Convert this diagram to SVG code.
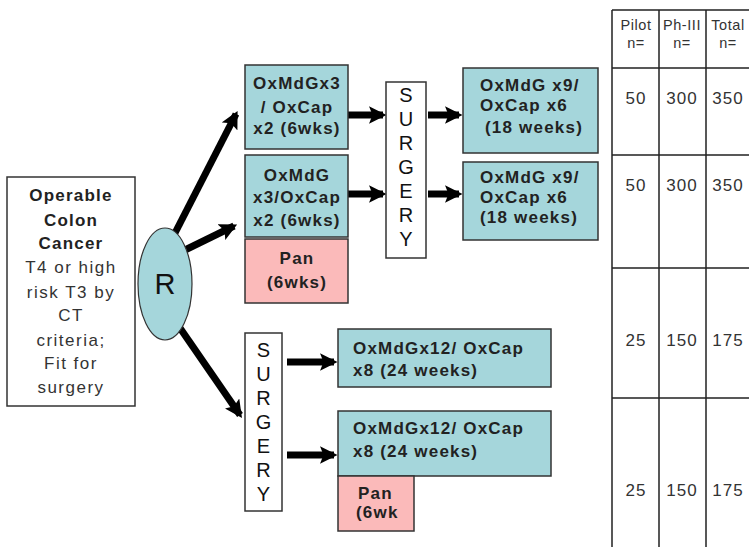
<svg xmlns="http://www.w3.org/2000/svg" width="749" height="547" viewBox="0 0 749 547">
<defs>
<style>
.teal{fill:#a5d6db;stroke:#333;stroke-width:1.5}
.pink{fill:#fbbaba;stroke:#333;stroke-width:1.5}
.white{fill:#fff;stroke:#333;stroke-width:1.5}
.b{font-family:"Liberation Sans",Arial,sans-serif;font-weight:bold;font-size:17px;fill:#222;letter-spacing:1.2px}
.r{font-family:"Liberation Sans",Arial,sans-serif;font-size:17px;fill:#333;letter-spacing:1.5px}
.s{font-family:"Liberation Sans",Arial,sans-serif;font-size:20px;fill:#111;text-anchor:middle}
.t{font-family:"Liberation Sans",Arial,sans-serif;font-size:17px;fill:#333;text-anchor:middle;letter-spacing:1px}
.th{font-family:"Liberation Sans",Arial,sans-serif;font-size:14.5px;fill:#333;text-anchor:middle;letter-spacing:0.6px}
.c{text-anchor:middle}
.arrow{stroke:#000;stroke-width:7;fill:none;marker-end:url(#ah)}
.grid{stroke:#222;stroke-width:1.5;fill:none}
</style>
<marker id="ah" viewBox="0 0 10 10" refX="8" refY="5" markerWidth="2.5" markerHeight="2.5" orient="auto" markerUnits="strokeWidth">
<path d="M0,0 L10,5 L0,10 L2,5 z" fill="#000"/>
</marker>
</defs>

<g id="connectors">
<line class="arrow" x1="175" y1="233" x2="236" y2="114"/>
<line class="arrow" x1="185" y1="250" x2="234" y2="226"/>
<line class="arrow" x1="180" y1="328" x2="240" y2="415"/>
<line class="arrow" x1="348" y1="115" x2="383" y2="115"/>
<line class="arrow" x1="348" y1="194" x2="383" y2="194"/>
<line class="arrow" x1="428" y1="115" x2="459" y2="115"/>
<line class="arrow" x1="428" y1="194" x2="459" y2="194"/>
<line class="arrow" x1="287" y1="362" x2="334" y2="362"/>
<line class="arrow" x1="287" y1="455" x2="334" y2="455"/>
</g>

<g id="patient">
<rect class="white" x="7" y="177" width="128" height="229"/>
<text class="b c" x="71" y="201">Operable</text>
<text class="b c" x="71" y="226">Colon</text>
<text class="b c" x="71" y="249">Cancer</text>
<text class="r c" x="71" y="273">T4 or high</text>
<text class="r c" x="71" y="298">risk T3 by</text>
<text class="r c" x="71" y="321">CT</text>
<text class="r c" x="71" y="346">criteria;</text>
<text class="r c" x="71" y="369">Fit for</text>
<text class="r c" x="71" y="393">surgery</text>
</g>

<g id="randomize">
<ellipse cx="165" cy="284" rx="27" ry="56" fill="#a5d6db" stroke="#333" stroke-width="1.2"/>
<text x="165" y="294" font-family="'Liberation Sans',Arial,sans-serif" font-size="29" fill="#111" text-anchor="middle">R</text>
</g>

<g id="arm1-neo">
<rect class="teal" x="245" y="65" width="103" height="84"/>
<text class="b c" x="297" y="89">OxMdGx3</text>
<text class="b c" x="297" y="113">/ OxCap</text>
<text class="b c" x="297" y="134">x2 (6wks)</text>
</g>

<g id="arm2-neo">
<rect class="teal" x="245" y="155" width="103" height="82"/>
<text class="b c" x="297" y="181">OxMdG</text>
<text class="b c" x="297" y="203">x3/OxCap</text>
<text class="b c" x="297" y="226">x2 (6wks)</text>
</g>

<g id="arm2-pan">
<rect class="pink" x="245" y="239" width="103" height="64"/>
<text class="b c" x="297" y="264">Pan</text>
<text class="b c" x="297" y="288">(6wks)</text>
</g>

<g id="surgery1">
<rect class="white" x="386" y="82" width="40" height="176"/>
<text class="s" x="406" y="102">S</text>
<text class="s" x="406" y="126">U</text>
<text class="s" x="406" y="150">R</text>
<text class="s" x="406" y="174">G</text>
<text class="s" x="406" y="198">E</text>
<text class="s" x="406" y="222">R</text>
<text class="s" x="406" y="246">Y</text>
</g>

<g id="arm1-adj">
<rect class="teal" x="463" y="68" width="135" height="85"/>
<text class="b" x="480" y="91">OxMdG x9/</text>
<text class="b" x="480" y="111">OxCap x6</text>
<text class="b" x="485" y="133">(18 weeks)</text>
</g>

<g id="arm2-adj">
<rect class="teal" x="463" y="162" width="135" height="78"/>
<text class="b" x="480" y="183">OxMdG x9/</text>
<text class="b" x="480" y="203">OxCap x6</text>
<text class="b" x="480" y="223">(18 weeks)</text>
</g>

<g id="surgery2">
<rect class="white" x="245" y="333" width="37" height="178"/>
<text class="s" x="263.5" y="357">S</text>
<text class="s" x="263.5" y="381">U</text>
<text class="s" x="263.5" y="405">R</text>
<text class="s" x="263.5" y="429">G</text>
<text class="s" x="263.5" y="453">E</text>
<text class="s" x="263.5" y="477">R</text>
<text class="s" x="263.5" y="501">Y</text>
</g>

<g id="arm3-adj">
<rect class="teal" x="338" y="329" width="213" height="58"/>
<text class="b" x="353" y="354">OxMdGx12/ OxCap</text>
<text class="b" x="353" y="376">x8 (24 weeks)</text>
</g>

<g id="arm4-adj">
<rect class="teal" x="338" y="411" width="213" height="65"/>
<text class="b" x="353" y="434">OxMdGx12/ OxCap</text>
<text class="b" x="353" y="457">x8 (24 weeks)</text>
</g>

<g id="arm4-pan">
<rect class="pink" x="338" y="476" width="76" height="55"/>
<text class="b" x="358" y="499">Pan</text>
<text class="b" x="356" y="518">(6wk</text>
</g>

<g id="table">
<path class="grid" d="M612,10 H751 M612,68 H751 M612,155 H751 M612,268 H751 M612,398 H751 M612,10 V548 M659,10 V548 M706,10 V548"/>
<text class="th" x="636" y="30">Pilot</text>
<text class="th" x="636" y="48">n=</text>
<text class="th" x="682" y="30">Ph-III</text>
<text class="th" x="682" y="48">n=</text>
<text class="th" x="728" y="30">Total</text>
<text class="th" x="728" y="48">n=</text>
<text class="t" x="636" y="104">50</text>
<text class="t" x="682" y="104">300</text>
<text class="t" x="728" y="104">350</text>
<text class="t" x="636" y="191">50</text>
<text class="t" x="682" y="191">300</text>
<text class="t" x="728" y="191">350</text>
<text class="t" x="636" y="346">25</text>
<text class="t" x="682" y="346">150</text>
<text class="t" x="728" y="346">175</text>
<text class="t" x="636" y="496">25</text>
<text class="t" x="682" y="496">150</text>
<text class="t" x="728" y="496">175</text>
</g>
</svg>
